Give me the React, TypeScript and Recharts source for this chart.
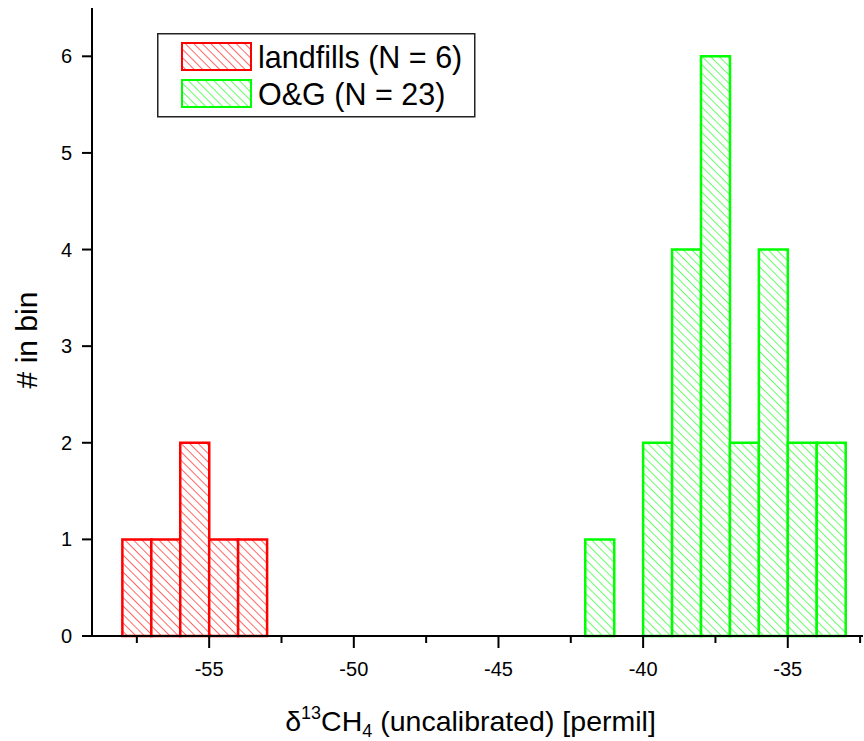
import React from 'react';
import { BarChart, Bar, XAxis, YAxis, Legend } from 'recharts';

const landfillBins = [-57.5, -56.5, -55.5, -54.5, -53.5];
const landfillCounts = [1, 1, 2, 1, 1];
const ogBins = [-41.5, -39.5, -38.5, -37.5, -36.5, -35.5, -34.5, -33.5];
const ogCounts = [1, 2, 4, 6, 2, 4, 2, 2];
const xTicks = [-57.5, -55, -52.5, -50, -47.5, -45, -42.5, -40, -37.5, -35, -32.5];
const yTicks = [0, 1, 2, 3, 4, 5, 6];
const seriesNames = ['landfills (N = 6)', 'O&G (N = 23)'];
const seriesColors = ['#ff0000', '#00ff00'];
const patternIds = ['hatchRed', 'hatchGreen'];

const data = [
  ...landfillBins.map((x, i) => ({ x, landfills: landfillCounts[i], og: null as number | null })),
  ...ogBins.map((x, i) => ({ x, landfills: null as number | null, og: ogCounts[i] })),
];

const FONT = '"Liberation Sans", Arial, sans-serif';

const XTick = (props: any) => {
  const { x, y, payload } = props;
  const v = payload.value;
  const major = Math.abs(v % 5) < 1e-6;
  return (
    <g>
      <line x1={x} x2={x} y1={y} y2={y + (major ? 12 : 7)} stroke="#000" strokeWidth={2} />
      {major && (
        <text x={x} y={y + 40} textAnchor="middle" fontSize={20} fill="#000" fontFamily={FONT}>
          {String(v)}
        </text>
      )}
    </g>
  );
};

const YLabel = (props: any) => {
  const vb = props.viewBox || { x: 0, y: 8, width: 92, height: 628 };
  const cx = 37;
  const cy = vb.y + vb.height / 2 + 18;
  return (
    <text x={cx} y={cy} transform={`rotate(-90, ${cx}, ${cy})`} textAnchor="middle" fontSize={30} fill="#000" fontFamily={FONT}>
      # in bin
    </text>
  );
};

const XLabel = (props: any) => {
  const vb = props.viewBox || { x: 92, y: 636, width: 771, height: 105 };
  const cx = vb.x + vb.width / 2 - 7;
  const by = 731;
  return (
    <text x={cx} y={by} textAnchor="middle" fontSize={28.5} fill="#000" fontFamily={FONT}>
      <tspan>δ</tspan>
      <tspan fontSize={18} dy={-12}>13</tspan>
      <tspan dy={12}>CH</tspan>
      <tspan fontSize={18} dy={6}>4</tspan>
      <tspan dy={-6}> (uncalibrated) [permil]</tspan>
    </text>
  );
};

const LegendBox = () => (
  <svg width={320} height={86} style={{ display: 'block' }}>
    <rect x={0.75} y={0.75} width={317} height={83} fill="#fff" stroke="#222" strokeWidth={1.5} />
    {seriesNames.map((name, i) => (
      <g key={name}>
        <rect x={25} y={10 + i * 37} width={69} height={27} fill={`url(#${patternIds[i]})`} stroke={seriesColors[i]} strokeWidth={2} />
        <text x={101} y={35 + i * 37} fontSize={30.5} fill="#000" fontFamily={FONT}>
          {name}
        </text>
      </g>
    ))}
  </svg>
);

export default function App() {
  return (
    <div style={{ position: 'absolute', left: 0, top: 0, width: 864, height: 741, background: '#fff' }}>
      <BarChart
        width={864}
        height={741}
        data={data}
        margin={{ top: 8, right: 1, left: 0, bottom: 0 }}
        barCategoryGap={0}
        barGap={0}
      >
        <defs>
          {patternIds.map((id, i) => (
            <pattern key={id} id={id} patternUnits="userSpaceOnUse" width={6} height={6} patternTransform="rotate(-45)">
              <rect width={6} height={6} fill="#fff" />
              <line x1={0} y1={0} x2={0} y2={6} stroke={seriesColors[i]} strokeWidth={1.2} />
            </pattern>
          ))}
        </defs>
        <XAxis
          dataKey="x"
          type="number"
          domain={[-59.05, -32.4]}
          allowDataOverflow
          ticks={xTicks}
          interval={0}
          height={105}
          axisLine={{ stroke: '#000', strokeWidth: 2 }}
          tickLine={false}
          tickSize={0}
          tickMargin={0}
          tick={<XTick />}
          label={<XLabel />}
        />
        <YAxis
          type="number"
          domain={[0, 6.5]}
          ticks={yTicks}
          interval={0}
          width={92}
          axisLine={{ stroke: '#000', strokeWidth: 2 }}
          tickLine={{ stroke: '#000', strokeWidth: 2 }}
          tickSize={10}
          tickMargin={10}
          tick={{ fill: '#000', fontSize: 20, fontFamily: FONT }}
          label={<YLabel />}
        />
        <Legend
          layout="vertical"
          align="center"
          verticalAlign="middle"
          wrapperStyle={{ position: 'absolute', left: 157, top: 33, width: 320, height: 86 }}
          content={() => <LegendBox />}
        />
        <Bar dataKey="landfills" name={seriesNames[0]} stackId="s" fill={`url(#${patternIds[0]})`} stroke={seriesColors[0]} strokeWidth={2.5} isAnimationActive={false} />
        <Bar dataKey="og" name={seriesNames[1]} stackId="s" fill={`url(#${patternIds[1]})`} stroke={seriesColors[1]} strokeWidth={2.5} isAnimationActive={false} />
      </BarChart>
    </div>
  );
}
